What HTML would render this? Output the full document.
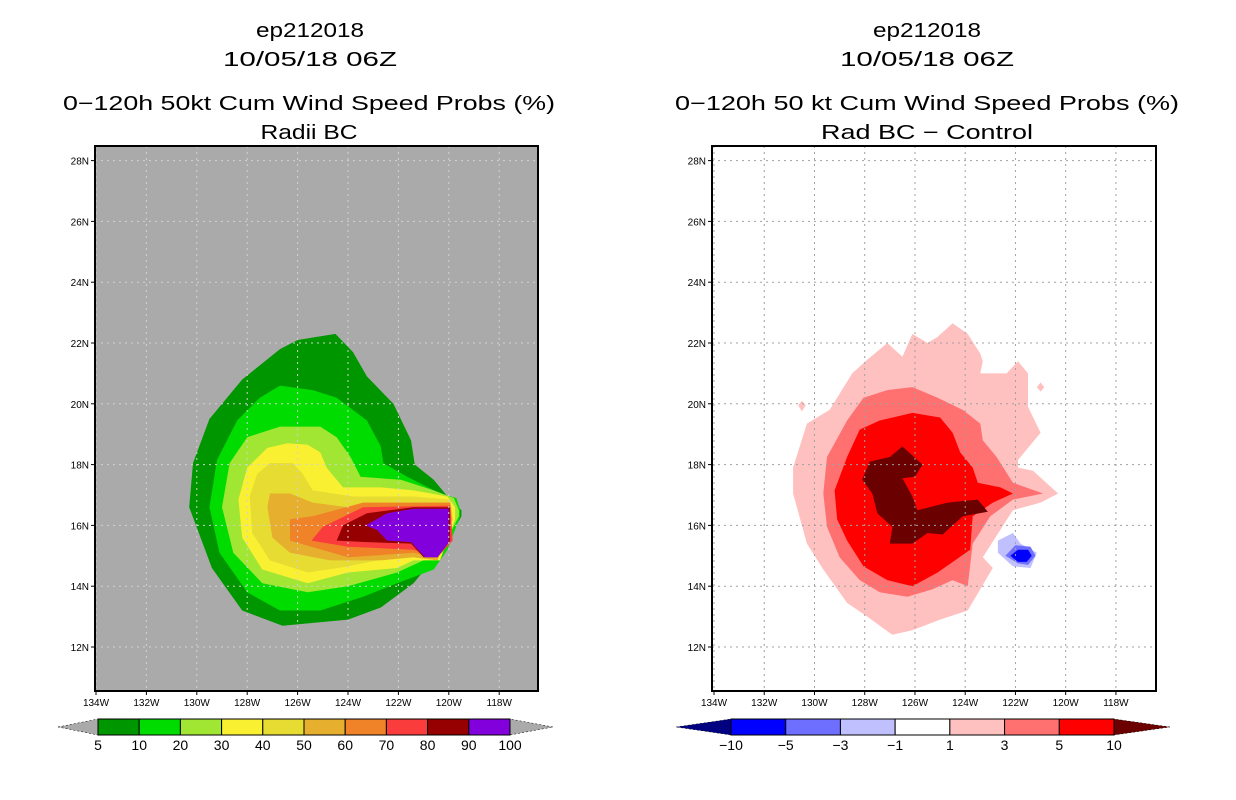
<!DOCTYPE html>
<html><head><meta charset="utf-8"><style>
html,body{margin:0;padding:0;background:#fff;}
svg{display:block;}
text{font-family:"Liberation Sans",sans-serif;}
</style></head><body>
<svg id="chart" width="1236" height="800" viewBox="0 0 1236 800" xmlns="http://www.w3.org/2000/svg">
<g id="texts">
<text x="310" y="37" font-size="20" text-anchor="middle" textLength="108" lengthAdjust="spacingAndGlyphs">ep212018</text>
<text x="310" y="66" font-size="20" text-anchor="middle" textLength="174" lengthAdjust="spacingAndGlyphs">10/05/18 06Z</text>
<text x="309" y="110" font-size="20" text-anchor="middle" textLength="492" lengthAdjust="spacingAndGlyphs">0−120h 50kt Cum Wind Speed Probs (%)</text>
<text x="309" y="139" font-size="20" text-anchor="middle" textLength="97" lengthAdjust="spacingAndGlyphs">Radii BC</text>
<text x="927" y="37" font-size="20" text-anchor="middle" textLength="108" lengthAdjust="spacingAndGlyphs">ep212018</text>
<text x="927" y="66" font-size="20" text-anchor="middle" textLength="174" lengthAdjust="spacingAndGlyphs">10/05/18 06Z</text>
<text x="927" y="110" font-size="20" text-anchor="middle" textLength="504" lengthAdjust="spacingAndGlyphs">0−120h 50 kt Cum Wind Speed Probs (%)</text>
<text x="927" y="139" font-size="20" text-anchor="middle" textLength="212" lengthAdjust="spacingAndGlyphs">Rad BC − Control</text>
</g>
</svg>
<script>
// ---- data ----
const lonTicks = [134,132,130,128,126,124,122,120,118];
const latTicks = [12,14,16,18,20,22,24,26,28];
const leftLevels = ["5","10","20","30","40","50","60","70","80","90","100"];
const leftColors = ["#009600","#00dc00","#a0e632","#faf032","#e6dc32","#e6af2d","#f08228","#fa3c3c","#960000","#8200dc"];
const rightLevels = ["-10","-5","-3","-1","1","3","5","10"];
const rightColors = ["#0000ff","#6e6eff","#c0c0ff","#ffffff","#ffc0c0","#ff7070","#ff0000"];
// contour polygons [lonW, latN]
const probLon5  = [126.0,124.5,123.8,123.25,122.2,121.5,121.35,120.6,120.1,119.5,119.5,120.15,121.4,122.7,124.0,126.6,128.2,129.4,130.3,130.15,129.5,128.2,126.7];
const probLat5  = [22.1,22.3,21.7,20.9,20.0,18.8,18.0,17.5,17.0,16.5,16.3,15.35,14.1,13.3,12.9,12.7,13.2,14.6,16.6,18.05,19.5,20.8,21.8];
const probLon10 = [126.7,125.4,124.45,123.25,122.7,122.6,121.65,120.35,119.7,119.55,119.55,120.05,120.6,122.05,123.4,125.1,126.7,128.0,129.1,129.5,129.2,128.4,127.5];
const probLat10 = [20.6,20.45,20.2,19.45,18.6,18.05,17.6,17.05,16.9,16.5,16.3,15.2,14.55,14.1,13.65,13.2,13.2,13.8,15.1,16.6,18.15,19.45,20.2];
const probLon20 = [126.7,125.1,124.45,123.9,123.5,121.9,120.6,119.8,119.6,119.6,120.35,122.05,124.0,125.6,127.4,128.55,129.0,128.7,128.0];
const probLat20 = [19.25,19.25,18.9,18.25,17.6,17.5,17.15,16.9,16.5,16.3,15.1,14.45,14.0,13.8,14.1,15.1,16.6,18.05,18.9];
const probLon30 = [126.4,125.6,125.1,124.85,124.2,122.7,121.4,120.05,119.75,119.75,120.35,121.4,122.05,124.0,125.6,127.4,128.2,128.35,128.0,127.2];
const probLat30 = [18.7,18.65,18.4,17.9,17.25,17.25,17.15,16.95,16.6,16.2,14.85,14.85,14.6,14.45,14.1,14.55,15.6,16.85,17.9,18.55];
const probLon40 = [127.1,126.2,125.8,125.4,123.8,121.4,119.95,119.85,120.25,121.4,124.0,125.6,127.1,127.8,127.9,127.6];
const probLat40 = [18.05,18.05,17.7,17.15,16.95,16.95,16.85,16.4,15.1,15.1,14.65,14.45,14.85,15.75,16.95,17.7];
const probLon50 = [127.1,126.3,125.4,124.0,121.4,119.95,119.85,120.45,121.4,122.7,124.7,126.3,127.0,127.2];
const probLat50 = [17.05,17.05,16.75,16.6,16.75,16.75,16.2,14.85,14.95,14.85,14.85,15.1,15.6,16.6];
const probLon60 = [126.3,125.4,123.4,119.95,119.85,120.45,121.4,124.0,126.3];
const probLat60 = [16.2,16.3,16.75,16.75,15.6,14.95,15.1,14.95,15.5];
const probLon70 = [125.45,125.0,123.4,119.95,119.85,120.45,121.4,124.0];
const probLat70 = [15.5,15.95,16.6,16.65,15.5,14.95,15.2,15.3];
const probLon80 = [124.45,124.2,123.25,121.4,119.95,119.95,120.45,121.0,121.5,123.25];
const probLat80 = [15.5,16.0,16.4,16.6,16.6,15.5,14.95,14.95,15.4,15.45];
const probLon90 = [123.3,122.45,121.4,120.0,120.0,120.45,120.95,121.5,122.45,122.85];
const probLat90 = [16.0,16.4,16.55,16.55,15.45,14.95,14.95,15.45,15.5,15.85];

const diffLonP1 = [124.5,123.9,123.4,123.3,123.4,122.35,121.9,121.5,121.5,121.0,121.9,121.9,121.3,120.3,121.0,122.1,123.3,122.9,123.9,125.0,126.1,126.9,127.9,128.7,129.65,130.3,130.85,130.85,130.3,129.4,128.5,127.9,127.1,126.5,126.1,125.5,125.1];
const diffLatP1 = [22.65,22.3,21.65,21.4,21.0,21.0,21.4,21.0,19.9,19.05,18.15,17.9,17.8,17.05,16.75,16.5,14.95,14.6,13.2,12.9,12.55,12.4,13.0,13.45,14.55,15.4,17.05,17.9,19.35,19.8,21.0,21.45,22.0,21.55,22.3,22.0,22.2];
const diffLonP3 = [128.05,127.1,126.1,125.1,124.1,123.4,123.3,122.75,122.1,120.9,122.1,123.0,123.7,123.9,124.5,125.3,126.3,127.4,128.2,129.0,129.5,129.65,129.5,128.7];
const diffLatP3 = [20.2,20.45,20.55,20.2,19.8,19.35,18.8,18.25,17.4,17.05,16.85,16.3,15.4,14.0,14.2,13.9,13.65,13.8,14.2,14.95,15.95,17.05,18.25,19.45];
const diffLonP5 = [128.2,127.4,126.1,125.0,124.5,124.2,123.7,123.5,122.6,122.1,122.9,123.7,123.8,125.1,126.1,127.1,128.05,128.7,129.1,129.2,128.7];
const diffLatP5 = [19.15,19.45,19.7,19.55,19.05,18.4,17.9,17.4,17.25,17.05,16.75,16.3,15.2,14.45,14.0,14.2,14.65,15.5,16.2,17.15,18.25];
const diffLonP10 = [128.1,127.8,127.0,126.5,125.7,126.0,126.5,126.1,125.9,124.7,123.5,123.1,124.1,124.9,125.5,126.1,127.0,126.9,127.5,127.7];
const diffLatP10 = [17.5,18.1,18.25,18.6,18.0,17.6,17.55,16.95,16.5,16.75,16.85,16.45,16.3,15.7,15.75,15.4,15.4,15.95,16.4,17.05];
const diffLonM1 = [122.7,122.1,121.8,121.15,121.4,122.1,122.7];
const diffLatM1 = [15.5,15.75,15.4,15.1,14.6,14.65,15.1];
const diffLonM3 = [122.4,122.0,121.4,121.2,121.5,121.9];
const diffLatM3 = [15.0,15.35,15.3,15.0,14.7,14.75];
const diffLonM5 = [122.2,121.9,121.5,121.35,121.55,121.9];
const diffLatM5 = [15.0,15.2,15.2,15.0,14.8,14.8];
const islandLon = [130.5,130.35,130.5,130.65, 121.0,120.85,121.0,121.15];
const islandLat = [20.1,19.95,19.75,19.95, 20.7,20.55,20.4,20.55];

// ---- rendering ----
const NS="http://www.w3.org/2000/svg";
const svg=document.getElementById('chart');
function mk(tag,attrs,parent){const e=document.createElementNS(NS,tag);for(const k in attrs)e.setAttribute(k,attrs[k]);(parent||svg).appendChild(e);return e;}
const panels=[{x0:95,x1:538,lon134:96,ppd:25.2},{x0:712,x1:1156,lon134:714,ppd:25.12}];
const Y0=146,Y1=691;
function yScale(lat){return 647-(lat-12)*30.4;}
function xScale(p,lon){return p.lon134+(134-lon)*p.ppd;}
function poly(p,lons,lats,fill,name){
  const pts=lons.map((l,i)=>xScale(p,l).toFixed(1)+','+yScale(lats[i]).toFixed(1)).join(' ');
  const e=mk('polygon',{points:pts,fill:fill});
  
  
  return e;
}
function panel(idx,bg){
  const p=panels[idx];
  const r=mk('rect',{x:p.x0,y:Y0,width:p.x1-p.x0,height:Y1-Y0,fill:bg});
  
  
  return p;
}
function grid(p,color,side){
  lonTicks.forEach(l=>{const x=xScale(p,l);
    const g=mk('line',{x1:x,x2:x,y1:Y0,y2:Y1,stroke:color,'stroke-width':1,'stroke-dasharray':'2,4'});
    
    
    const t=mk('line',{x1:x,x2:x,y1:Y1,y2:Y1+4,stroke:'#000'});
    
    
    const tx=mk('text',{x:x,y:Y1+15,'font-size':10,'text-anchor':'middle'});tx.textContent=l+'W';
    
    
  });
  latTicks.forEach(l=>{const y=yScale(l);
    const g=mk('line',{x1:p.x0,x2:p.x1,y1:y,y2:y,stroke:color,'stroke-width':1,'stroke-dasharray':'2,4'});
    
    
    const t=mk('line',{x1:p.x0-4,x2:p.x0,y1:y,y2:y,stroke:'#000'});
    
    
    const tx=mk('text',{x:p.x0-6,y:y+4,'font-size':10,'text-anchor':'end'});tx.textContent=l+'N';
    
    
  });
  const f=mk('rect',{x:p.x0,y:Y0,width:p.x1-p.x0,height:Y1-Y0,fill:'none',stroke:'#000','stroke-width':2});
  
  
}
// left
const pL=panel(0,'#aaaaaa');
const probL=[[probLon5,probLat5],[probLon10,probLat10],[probLon20,probLat20],[probLon30,probLat30],[probLon40,probLat40],[probLon50,probLat50],[probLon60,probLat60],[probLon70,probLat70],[probLon80,probLat80],[probLon90,probLat90]];
probL.forEach((d,i)=>poly(pL,d[0],d[1],leftColors[i],'prob-contour-'+leftLevels[i]));
grid(pL,'#d2d2d2','left');
// right
const pR=panel(1,'#ffffff');
poly(pR,diffLonP1,diffLatP1,rightColors[4],'diff-contour-plus1');
for(let k=0;k<2;k++){poly(pR,islandLon.slice(k*4,k*4+4),islandLat.slice(k*4,k*4+4),rightColors[4],'diff-island');}
poly(pR,diffLonP3,diffLatP3,rightColors[5],'diff-contour-plus3');
poly(pR,diffLonP5,diffLatP5,rightColors[6],'diff-contour-plus5');
poly(pR,diffLonP10,diffLatP10,'#6a0000','diff-contour-plus10');
poly(pR,diffLonM1,diffLatM1,rightColors[2],'diff-contour-minus1');
poly(pR,diffLonM3,diffLatM3,rightColors[1],'diff-contour-minus3');
poly(pR,diffLonM5,diffLatM5,rightColors[0],'diff-contour-minus5');
grid(pR,'#a0a0a0','right');
// colorbars
function colorbar(x0,x1,tl,tr,colors,labels,lc,rc,side){
  const n=colors.length,w=(x1-x0)/n,yt=719,yb=735,ym=727;
  const a=mk('polygon',{points:`${tl},${ym} ${x0},${yt} ${x0},${yb}`,fill:lc,stroke:'#000','stroke-width':0.5,'stroke-dasharray':'2,2'});
  
  
  const b=mk('polygon',{points:`${tr},${ym} ${x1},${yt} ${x1},${yb}`,fill:rc,stroke:'#000','stroke-width':0.5,'stroke-dasharray':'2,2'});
  
  
  colors.forEach((c,i)=>{const r=mk('rect',{x:x0+i*w,y:yt,width:w,height:yb-yt,fill:c,stroke:'#000','stroke-width':1});
    
    });
  labels.forEach((l,i)=>{const t=mk('text',{x:x0+i*w,y:yb+15,'font-size':14,'text-anchor':'middle'});t.textContent=l.replace('-','−');
    
    });
}
colorbar(98,510,58,553,leftColors,leftLevels,'#aaaaaa','#aaaaaa','left');
colorbar(731,1114,676,1170,rightColors,rightLevels,'#000080','#6a0000','right');
</script>
</body></html>
